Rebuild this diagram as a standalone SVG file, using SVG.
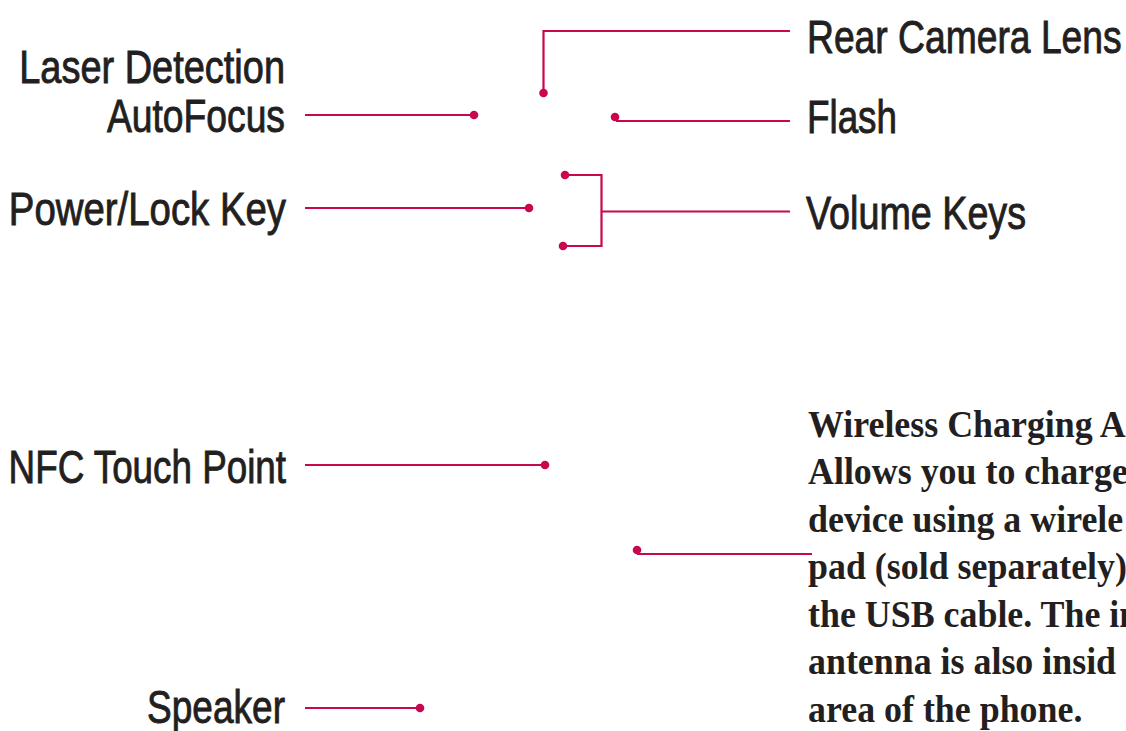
<svg xmlns="http://www.w3.org/2000/svg" width="1126" height="731" viewBox="0 0 1126 731">
<style>
.lbl{font-family:"Liberation Sans",Arial,sans-serif;font-size:46px;fill:#231f20;stroke:#231f20;stroke-width:0.9px}
.end{text-anchor:end}
.desc{font-family:"Liberation Serif","Times New Roman",serif;font-size:37px;font-weight:bold;fill:#231f20}
.ln{stroke:#c8074f;stroke-width:2.2;fill:none}
.dot{fill:#c8074f}
</style>
<rect width="1126" height="731" fill="#ffffff"/>
<g id="connectors">
<path class="ln" d="M305,115 H474"/>
<circle class="dot" cx="474" cy="115" r="4.3"/>
<path class="ln" d="M543.5,93 V31 H790"/>
<circle class="dot" cx="543.5" cy="93" r="4.3"/>
<path class="ln" d="M616,121 H790"/>
<circle class="dot" cx="615" cy="117" r="4.3"/>
<path class="ln" d="M305,208 H529"/>
<circle class="dot" cx="529" cy="208" r="4.3"/>
<path class="ln" d="M565,175 H601.5 V246 H563 M601.5,211.5 H790"/>
<circle class="dot" cx="565" cy="175" r="4.3"/>
<circle class="dot" cx="563" cy="246" r="4.3"/>
<path class="ln" d="M305,465 H545"/>
<circle class="dot" cx="545" cy="465" r="4.3"/>
<path class="ln" d="M637,554 H812"/>
<circle class="dot" cx="637" cy="550" r="4.3"/>
<path class="ln" d="M305,708 H420"/>
<circle class="dot" cx="420" cy="708" r="4.3"/>
</g>
<g id="laser">
<text class="lbl end" transform="translate(285,83) scale(0.825,1)">Laser Detection</text>
<text class="lbl end" transform="translate(285,132) scale(0.81,1)">AutoFocus</text>
</g>
<g id="rear-camera">
<text class="lbl" transform="translate(807,53) scale(0.81,1)">Rear Camera Lens</text>
</g>
<g id="flash">
<text class="lbl" transform="translate(807,133) scale(0.80,1)">Flash</text>
</g>
<g id="power-lock">
<text class="lbl end" transform="translate(286,225) scale(0.834,1)">Power/Lock Key</text>
</g>
<g id="volume">
<text class="lbl" transform="translate(806,229) scale(0.82,1)">Volume Keys</text>
</g>
<g id="nfc">
<text class="lbl end" transform="translate(286,483) scale(0.80,1)">NFC Touch Point</text>
</g>
<g id="speaker">
<text class="lbl end" transform="translate(285,723) scale(0.805,1)">Speaker</text>
</g>
<g id="wireless">
<text class="desc" transform="translate(808,0) scale(0.97,1)">
<tspan x="0" y="437">Wireless Charging A</tspan>
<tspan x="0" y="484.5">Allows you to charge</tspan>
<tspan x="0" y="532">device using a wirele</tspan>
<tspan x="0" y="579.5">pad (sold separately)</tspan>
<tspan x="0" y="627">the USB cable. The in</tspan>
<tspan x="0" y="674.5">antenna is also insid</tspan>
<tspan x="0" y="722">area of the phone.</tspan>
</text>
</g>
</svg>
